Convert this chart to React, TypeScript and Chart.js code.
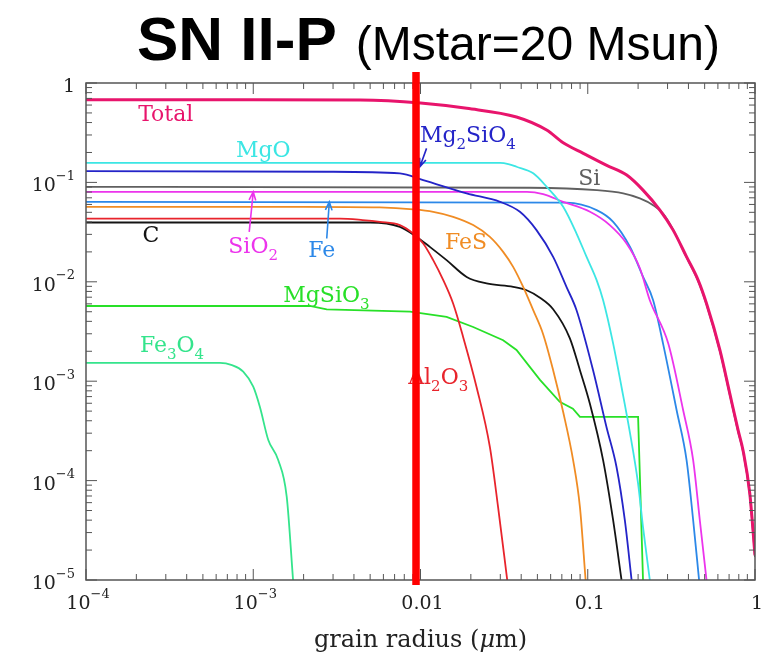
import { useEffect, useRef } from "react";
import { Chart, registerables } from "chart.js";

Chart.register(...registerables);

type Pt = [number, number];

// Dust mass (Msun) remaining vs. grain radius (µm), per grain species
const total: Pt[] = [
  [1e-4, 0.679], [1e-3, 0.677], [4.35e-3, 0.674], [0.01, 0.629], [0.0189, 0.556],
  [0.0375, 0.455], [0.0568, 0.336], [0.0713, 0.25], [0.094, 0.196], [0.129, 0.149],
  [0.171, 0.1185], [0.214, 0.0836], [0.27, 0.0526], [0.324, 0.0331], [0.39, 0.0178],
  [0.457, 0.0104], [0.513, 0.00604], [0.617, 0.00205], [0.707, 7.5e-4], [0.793, 3.2e-4],
  [0.849, 2.0e-4], [0.931, 7.4e-5], [1.0, 1.77e-5],
];
const mgO: Pt[] = [
  [1e-4, 0.157], [0.0299, 0.157], [0.0335, 0.153], [0.0375, 0.1436], [0.0472, 0.1233],
  [0.0568, 0.0903], [0.0713, 0.0568], [0.0857, 0.0306], [0.0984, 0.0178], [0.113, 0.0104],
  [0.1236, 0.00653], [0.1419, 0.00239], [0.1592, 8.75e-4], [0.177, 3.33e-4], [0.2, 9.3e-5],
  [0.214, 3.4e-5], [0.235, 1e-5],
];
const mg2SiO4: Pt[] = [
  [1e-4, 0.13], [2.75e-3, 0.128], [7.53e-3, 0.123], [0.01038, 0.1055], [0.01888, 0.0775],
  [0.0299, 0.0638], [0.0393, 0.0506], [0.0494, 0.0331], [0.0621, 0.0178], [0.0746, 0.00889],
  [0.0857, 0.00518], [0.1076, 0.00129], [0.1294, 3.46e-4], [0.1486, 1.37e-4],
  [0.1667, 3.97e-5], [0.1829, 1e-5],
];
const si: Pt[] = [
  [1e-4, 0.0903], [0.0451, 0.0883], [0.113, 0.0836], [0.163, 0.0775], [0.205, 0.069],
  [0.246, 0.059], [0.282, 0.0487], [0.324, 0.0335], [0.39, 0.0176], [0.457, 0.0102],
  [0.513, 0.0059], [0.617, 0.002], [0.707, 7.3e-4], [0.793, 3.1e-4], [0.849, 1.95e-4],
  [0.931, 7.2e-5], [1.0, 1.7e-5],
];
const siO2: Pt[] = [
  [1e-4, 0.0804], [0.0433, 0.0804], [0.0541, 0.0762], [0.0713, 0.0638], [0.1031, 0.0506],
  [0.1355, 0.0372], [0.1706, 0.0243], [0.205, 0.0137], [0.235, 0.00653], [0.303, 0.00239],
  [0.372, 5.1e-4], [0.427, 1.6e-4], [0.468, 3.97e-5], [0.513, 1e-5],
];
const fe: Pt[] = [
  [1e-4, 0.0638], [0.0746, 0.0625], [0.113, 0.0526], [0.1419, 0.0401], [0.1787, 0.0225],
  [0.2143, 0.0112], [0.246, 0.00653], [0.282, 0.00239], [0.34, 5.1e-4], [0.39, 1.6e-4],
  [0.427, 3.97e-5], [0.463, 1e-5],
];
const feS: Pt[] = [
  [1e-4, 0.0568], [2e-3, 0.0568], [5.71e-3, 0.056], [9.04e-3, 0.0535], [0.01191, 0.0506],
  [0.01567, 0.0451], [0.02065, 0.0372], [0.026, 0.0283], [0.0312, 0.02], [0.0358, 0.01413],
  [0.0411, 0.00889], [0.0472, 0.00518], [0.0541, 0.00297], [0.0621, 0.00129],
  [0.0713, 4.9e-4], [0.0818, 1.6e-4], [0.0898, 5.41e-5], [0.0971, 1e-5],
];
const al2O3: Pt[] = [
  [1e-4, 0.0432], [3.3e-3, 0.0432], [4.5e-3, 0.0418], [5.71e-3, 0.0401], [7.53e-3, 0.0372],
  [9.04e-3, 0.0306], [0.01038, 0.0243], [0.01191, 0.01651], [0.01368, 0.01038],
  [0.01567, 0.00604], [0.01798, 0.00279], [0.02163, 8.75e-4], [0.026, 2.17e-4],
  [0.0291, 5.41e-5], [0.033, 1e-5],
];
const carbon: Pt[] = [
  [1e-4, 0.0395], [5.0e-3, 0.0395], [7.53e-3, 0.0357], [9.49e-3, 0.0283], [0.01137, 0.02246],
  [0.01432, 0.01651], [0.01888, 0.0112], [0.02483, 0.00962], [0.0358, 0.00889],
  [0.0431, 0.00822], [0.0518, 0.00692], [0.0621, 0.0053], [0.0782, 0.0027], [0.0898, 0.00129],
  [0.103, 5.94e-4], [0.1236, 1.6e-4], [0.1419, 3.97e-5], [0.1592, 1e-5],
];
const mgSiO3: Pt[] = [
  [1e-4, 0.00571], [2.18e-3, 0.00571], [2.75e-3, 0.00528], [8.65e-3, 0.00502],
  [0.01432, 0.00443], [0.02065, 0.00351], [0.0312, 0.00258], [0.0375, 0.00206],
  [0.0518, 0.00103], [0.068, 6.2e-4], [0.0815, 5.3e-4], [0.0898, 4.38e-4], [0.2, 4.38e-4],
  [0.214, 1e-5],
];
const fe3O4: Pt[] = [
  [1e-4, 0.00153], [6.32e-4, 0.00153], [7.46e-4, 0.00145], [8.71e-4, 0.00125], [1.0e-3, 8.8e-4],
  [1.096e-3, 5.5e-4], [1.23e-3, 2.56e-4], [1.41e-3, 1.61e-4], [1.585e-3, 6.9e-5],
  [1.73e-3, 1e-5],
];

// Axis ranges and tick labels ("^" starts a superscript)
const radiusRange: Pt = [1e-4, 1];
const massRange: Pt = [1e-5, 1];
const xTickValues = [1e-4, 1e-3, 1e-2, 1e-1, 1];
const xTickLabels = ["10^\u22124", "10^\u22123", "0.01", "0.1", "1"];
const yTickValues = [1e-5, 1e-4, 1e-3, 1e-2, 1e-1, 1];
const yTickLabels = ["10^\u22125", "10^\u22124", "10^\u22123", "10^\u22122", "10^\u22121", "1"];

// Grain radius marked by the vertical bar
const markerRadius = 0.0094;

const SERIF = "'DejaVu Serif', serif";
const SANS = "'Liberation Sans', Arial, sans-serif";

type Series = { name: string; data: Pt[]; color: string; width: number; linear?: boolean };
const series: Series[] = [
  { name: "Total", data: total, color: "#e8146c", width: 3 },
  { name: "MgO", data: mgO, color: "#3ce6e4", width: 1.8 },
  { name: "Mg2SiO4", data: mg2SiO4, color: "#2424c8", width: 1.8 },
  { name: "SiO2", data: siO2, color: "#ec34ec", width: 1.8 },
  { name: "Fe", data: fe, color: "#2c88e8", width: 1.8 },
  { name: "Si", data: si, color: "#606060", width: 1.8 },
  { name: "FeS", data: feS, color: "#f08c24", width: 1.8 },
  { name: "Al2O3", data: al2O3, color: "#e8242c", width: 1.8 },
  { name: "C", data: carbon, color: "#141414", width: 1.8 },
  { name: "MgSiO3", data: mgSiO3, color: "#28e028", width: 1.8, linear: true },
  { name: "Fe3O4", data: fe3O4, color: "#34e48c", width: 1.8 },
];

// Curve labels: text ("_" makes the next character a subscript), left edge and baseline in data units
type Note = { text: string; x: number; y: number; color: string };
const notes: Note[] = [
  { text: "Total", x: 2.05e-4, y: 0.417, color: "#e8146c" },
  { text: "MgO", x: 7.88e-4, y: 0.1786, color: "#3ce6e4" },
  { text: "C", x: 2.18e-4, y: 0.0252, color: "#141414" },
  { text: "SiO_2", x: 7.09e-4, y: 0.0193, color: "#ec34ec" },
  { text: "Fe", x: 2.13e-3, y: 0.0178, color: "#2c88e8" },
  { text: "Mg_2SiO_4", x: 9.92e-3, y: 0.2564, color: "#2424c8" },
  { text: "Si", x: 0.0876, y: 0.0939, color: "#606060" },
  { text: "FeS", x: 0.014, y: 0.0216, color: "#f08c24" },
  { text: "MgSiO_3", x: 1.511e-3, y: 6.27e-3, color: "#28e028" },
  { text: "Fe_3O_4", x: 2.1e-4, y: 1.97e-3, color: "#34e48c" },
  { text: "Al_2O_3", x: 8.44e-3, y: 9.31e-4, color: "#e8242c" },
];

type Arrow = { from: Pt; to: Pt; color: string };
const arrows: Arrow[] = [
  { from: [9.46e-4, 0.0318], to: [1.0e-3, 0.0804], color: "#ec34ec" },
  { from: [2.75e-3, 0.0273], to: [2.85e-3, 0.0638], color: "#2c88e8" },
  { from: [0.01087, 0.22], to: [0.00992, 0.1436], color: "#2424c8" },
];

type Seg = { t: string; mode: number };
function parseRich(s: string): Seg[] {
  const segs: Seg[] = [];
  let buf = "";
  let i = 0;
  while (i < s.length) {
    const c = s[i];
    if (c === "^") {
      if (buf) segs.push({ t: buf, mode: 0 });
      segs.push({ t: s.slice(i + 1), mode: 1 });
      return segs;
    }
    if (c === "_") {
      if (buf) segs.push({ t: buf, mode: 0 });
      buf = "";
      segs.push({ t: s[i + 1], mode: -1 });
      i += 2;
      continue;
    }
    buf += c;
    i++;
  }
  if (buf) segs.push({ t: buf, mode: 0 });
  return segs;
}

function segFont(size: number, mode: number) {
  const s = mode === 0 ? size : Math.round(size * 0.7);
  return `${s}px ${SERIF}`;
}

function richWidth(ctx: CanvasRenderingContext2D, segs: Seg[], size: number) {
  let w = 0;
  for (const sg of segs) {
    ctx.font = segFont(size, sg.mode);
    w += ctx.measureText(sg.t).width;
  }
  return w;
}

function drawRich(
  ctx: CanvasRenderingContext2D, text: string, x: number, y: number, size: number,
  align: "left" | "center" | "right", color: string,
) {
  const segs = parseRich(text);
  const w = richWidth(ctx, segs, size);
  let cx = align === "left" ? x : align === "center" ? x - w / 2 : x - w;
  ctx.fillStyle = color;
  ctx.textAlign = "left";
  ctx.textBaseline = "alphabetic";
  for (const sg of segs) {
    ctx.font = segFont(size, sg.mode);
    const dy = sg.mode === 1 ? -size * 0.6 : sg.mode === -1 ? size * 0.32 : 0;
    ctx.fillText(sg.t, cx, y + dy);
    cx += ctx.measureText(sg.t).width;
  }
}

const decorations = {
  id: "decorations",
  beforeDraw(chart: Chart) {
    const ctx = chart.ctx;
    ctx.save();
    ctx.fillStyle = "#ffffff";
    ctx.fillRect(0, 0, chart.width, chart.height);
    ctx.restore();
  },
  afterDraw(chart: Chart) {
    const ctx = chart.ctx;
    const xs = chart.scales.x;
    const ys = chart.scales.y;
    const a = chart.chartArea;
    ctx.save();

    // frame
    ctx.strokeStyle = "#555555";
    ctx.lineWidth = 1.5;
    ctx.strokeRect(a.left, a.top, a.right - a.left, a.bottom - a.top);

    // inward ticks on all four sides
    ctx.lineWidth = 1;
    ctx.beginPath();
    for (let e = -4; e <= 0; e++) {
      for (let m = 1; m <= 9; m++) {
        const v = m * Math.pow(10, e);
        if (v > radiusRange[1] * 1.0001) break;
        const px = xs.getPixelForValue(v);
        const len = m === 1 ? 11 : 6;
        ctx.moveTo(px, a.bottom); ctx.lineTo(px, a.bottom - len);
        ctx.moveTo(px, a.top); ctx.lineTo(px, a.top + len);
      }
    }
    for (let e = -5; e <= 0; e++) {
      for (let m = 1; m <= 9; m++) {
        const v = m * Math.pow(10, e);
        if (v > massRange[1] * 1.0001) break;
        const py = ys.getPixelForValue(v);
        const len = m === 1 ? 11 : 6;
        ctx.moveTo(a.left, py); ctx.lineTo(a.left + len, py);
        ctx.moveTo(a.right, py); ctx.lineTo(a.right - len, py);
      }
    }
    ctx.stroke();

    // tick labels
    xTickValues.forEach((v, i) => {
      drawRich(ctx, xTickLabels[i], xs.getPixelForValue(v) + 2, a.bottom + 29, 19, "center", "#222222");
    });
    yTickValues.forEach((v, i) => {
      drawRich(ctx, yTickLabels[i], a.left - 11, ys.getPixelForValue(v) + 9, 19, "right", "#222222");
    });

    // axis title
    ctx.fillStyle = "#222222";
    ctx.textBaseline = "alphabetic";
    ctx.textAlign = "left";
    const p1 = "grain radius (";
    const p2 = "\u03bc";
    const p3 = "m)";
    const size = 24;
    ctx.font = `${size}px ${SERIF}`;
    const w1 = ctx.measureText(p1).width;
    const w3 = ctx.measureText(p3).width;
    ctx.font = `italic ${size}px ${SERIF}`;
    const w2 = ctx.measureText(p2).width;
    let tx = (a.left + a.right) / 2 - (w1 + w2 + w3) / 2;
    const ty = a.bottom + 67;
    ctx.font = `${size}px ${SERIF}`;
    ctx.fillText(p1, tx, ty);
    tx += w1;
    ctx.font = `italic ${size}px ${SERIF}`;
    ctx.fillText(p2, tx, ty);
    tx += w2;
    ctx.font = `${size}px ${SERIF}`;
    ctx.fillText(p3, tx, ty);

    // curve labels
    for (const n of notes) {
      drawRich(ctx, n.text, xs.getPixelForValue(n.x), ys.getPixelForValue(n.y), 22, "left", n.color);
    }

    // pointer arrows
    for (const ar of arrows) {
      const x0 = xs.getPixelForValue(ar.from[0]);
      const y0 = ys.getPixelForValue(ar.from[1]);
      const x1 = xs.getPixelForValue(ar.to[0]);
      const y1 = ys.getPixelForValue(ar.to[1]);
      const ang = Math.atan2(y1 - y0, x1 - x0);
      ctx.strokeStyle = ar.color;
      ctx.lineWidth = 1.6;
      ctx.beginPath();
      ctx.moveTo(x0, y0);
      ctx.lineTo(x1, y1);
      const h = 9;
      ctx.moveTo(x1 - h * Math.cos(ang - 0.38), y1 - h * Math.sin(ang - 0.38));
      ctx.lineTo(x1, y1);
      ctx.lineTo(x1 - h * Math.cos(ang + 0.38), y1 - h * Math.sin(ang + 0.38));
      ctx.stroke();
    }

    // vertical marker bar
    const mx = xs.getPixelForValue(markerRadius);
    ctx.fillStyle = "#ff0000";
    ctx.fillRect(mx - 3.75, a.top - 11, 7.5, a.bottom - a.top + 16);

    // title
    ctx.fillStyle = "#000000";
    ctx.textAlign = "left";
    ctx.textBaseline = "alphabetic";
    ctx.font = `bold 62px ${SANS}`;
    const t1 = "SN II-P";
    ctx.fillText(t1, 137, 60);
    const tw = ctx.measureText(t1).width;
    ctx.font = `48px ${SANS}`;
    ctx.fillText("(Mstar=20 Msun)", 137 + tw + 19, 60);

    ctx.restore();
  },
};

export default function App() {
  const canvasRef = useRef<HTMLCanvasElement | null>(null);

  useEffect(() => {
    const canvas = canvasRef.current;
    if (!canvas) return;
    const chart = new Chart(canvas, {
      type: "scatter",
      data: {
        datasets: series.map((s, i) => ({
          label: s.name,
          data: s.data.map(([x, y]) => ({ x, y })),
          showLine: true,
          borderColor: s.color,
          backgroundColor: s.color,
          borderWidth: s.width,
          pointRadius: 0,
          pointHoverRadius: 0,
          fill: false,
          cubicInterpolationMode: s.linear ? "default" : "monotone",
          tension: 0,
          order: i,
        })),
      },
      options: {
        animation: false,
        responsive: false,
        maintainAspectRatio: false,
        events: [],
        layout: { padding: { left: 86, right: 10, top: 83, bottom: 81 } },
        plugins: { legend: { display: false }, tooltip: { enabled: false }, title: { display: false } },
        scales: {
          x: { type: "logarithmic", min: radiusRange[0], max: radiusRange[1], display: false },
          y: { type: "logarithmic", min: massRange[0], max: massRange[1], display: false },
        },
      },
      plugins: [decorations],
    });
    return () => chart.destroy();
  }, []);

  return (
    <div style={{ position: "fixed", left: 0, top: 0, width: 765, height: 661, background: "#fff" }}>
      <canvas ref={canvasRef} width={765} height={661} style={{ display: "block" }} />
    </div>
  );
}
